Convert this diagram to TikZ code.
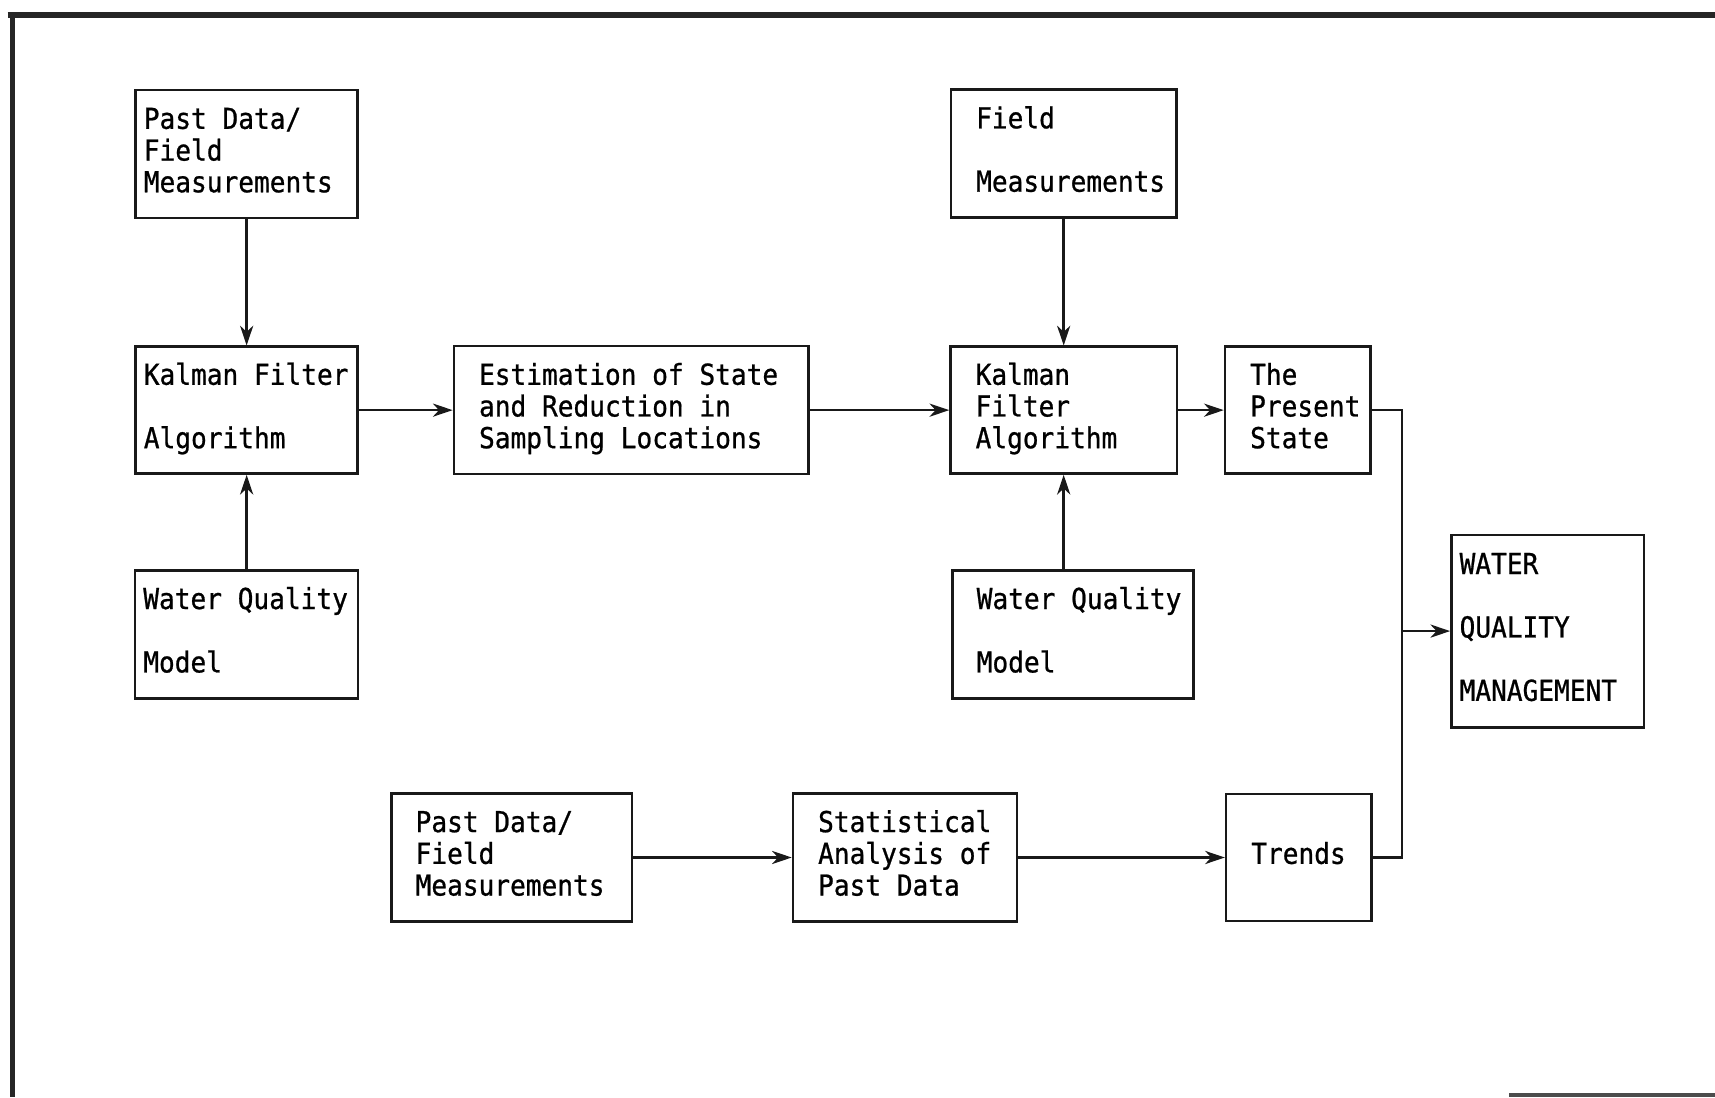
\documentclass[tikz,border=0pt]{standalone}
\usepackage{fontspec}
\setmonofont[FakeStretch=0.907, FakeBold=0.8]{DejaVu Sans Mono}
\usepackage{tikz}
\usetikzlibrary{arrows.meta,positioning,calc}
% one full character cell as word gap
\newcommand\gap{\hbox to \fontcharwd\font`M{}}

\begin{document}
\begin{tikzpicture}[>={Stealth[length=3.6mm, width=2.4mm, inset=1.1mm]},
                    every node/.style = {font=\ttfamily\fontsize{15}{16.5}\selectfont},
                    block/.style = {rectangle, draw=black!90, line width=1.3pt, align=left,
                            inner ysep=0pt, minimum height=2.34cm},
                    tight/.style = {block, inner xsep=1.5mm},
                    loose/.style = {block, inner xsep=4.6mm},
                    flow/.style = {->, line width=1.3pt, black!90},
                    frame/.style = {line width=3pt, black!85} ]

                \useasboundingbox (0,0) rectangle (31.36,20.06);
                % page frame
                \draw [frame] (0.14,19.79) -- (31.36,19.79);
                \draw [frame] (0.23,19.79) -- (0.23,0);
                \draw [line width=2pt, black!70] (27.6,0.03) -- (31.36,0.03);

                % left column
                \node [tight, text width=3.76cm] (pastdata) at (4.51,17.24) {\strut Past\gap Data/\\\strut Field\\\strut Measurements};
                \node [tight, text width=3.76cm, minimum height=2.32cm] (kalman) at (4.51,12.56) {\strut Kalman\gap Filter\\\strut\\\strut Algorithm};
                \node [tight, text width=3.78cm] (wqmodel) at (4.51,8.46) {\strut Water\gap Quality\\\strut\\\strut Model};

                % middle
                \node [loose, text width=5.56cm] (estimation) at (11.54,12.56) {\strut Estimation\gap of\gap State\\\strut and\gap Reduction\gap in\\\strut Sampling\gap Locations};

                % right column
                \node [loose, text width=3.20cm] (fieldmeas) at (19.45,17.25) {\strut Field\\\strut\\\strut Measurements};
                \node [loose, text width=3.22cm, minimum height=2.32cm] (kalmanb) at (19.45,12.56) {\strut Kalman\\\strut Filter\\\strut Algorithm};
                \node [loose, text width=3.52cm, inner xsep=4.4mm] (wqmodelb) at (19.62,8.46) {\strut Water\gap Quality\\\strut\\\strut Model};
                \node [loose, text width=1.74cm, minimum height=2.32cm] (present) at (23.73,12.56) {\strut The\\\strut Present\\\strut State};
                \node [tight, text width=3.22cm, minimum height=3.52cm] (management) at (28.3,8.52) {\strut WATER\\\strut\\\strut QUALITY\\\strut\\\strut MANAGEMENT};

                % bottom row
                \node [loose, text width=3.52cm, inner xsep=4.4mm] (pastdatab) at (9.36,4.38) {\strut Past\gap Data/\\\strut Field\\\strut Measurements};
                \node [loose, text width=3.18cm] (statistics) at (16.55,4.38) {\strut Statistical\\\strut Analysis\gap of\\\strut Past\gap Data};
                \node [loose, text width=1.74cm, minimum height=2.32cm] (trends) at (23.75,4.38) {\strut Trends};

                \coordinate (join) at ($(management.west)+(-0.88,0)$);

                \draw [flow] (pastdata) -- (kalman);
                \draw [flow] (wqmodel) -- (kalman);
                \draw [flow] (kalman) -- (estimation);
                \draw [flow] (estimation) -- (kalmanb);
                \draw [flow] (fieldmeas) -- (kalmanb);
                \draw [flow] (wqmodelb.north -| kalmanb.south) -- (kalmanb.south);
                \draw [flow] (kalmanb) -- (present);
                \draw [flow] (pastdatab) -- (statistics);
                \draw [flow] (statistics) -- (trends);
                % both results meet before management
                \draw [line width=1.3pt, black!90] (present.east) -| (join);
                \draw [line width=1.3pt, black!90] (trends.east) -| (join);
                \draw [flow] (join) -- (management);

            \end{tikzpicture}
\end{document}
